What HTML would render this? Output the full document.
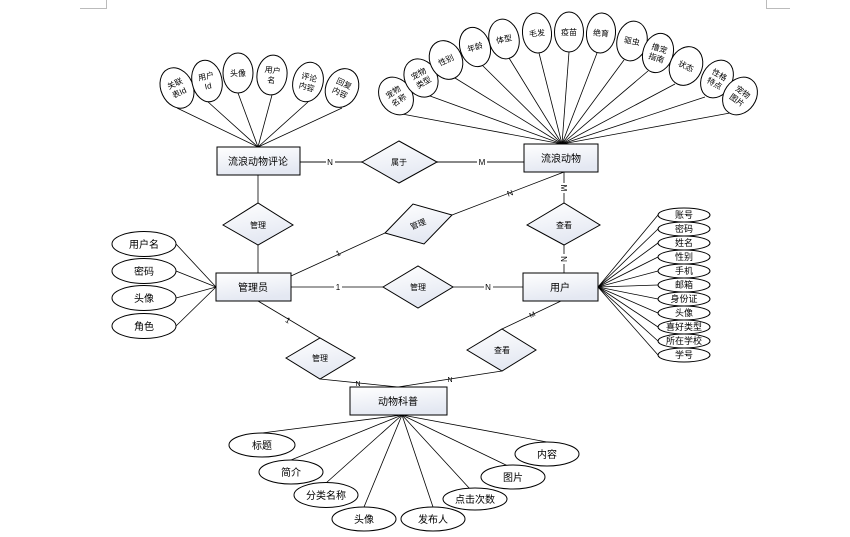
<!DOCTYPE html>
<html><head><meta charset="utf-8"><style>
html,body{margin:0;padding:0;background:#fff;}
svg{display:block;}
text{font-family:"Liberation Sans","Noto Sans CJK SC",sans-serif;fill:#000;}
.s{font-family:"Liberation Serif","Noto Serif CJK SC",serif;font-size:8px;fill:#333;}
</style></head><body>
<svg width="850" height="537" viewBox="0 0 850 537" xmlns="http://www.w3.org/2000/svg">
<defs>
<linearGradient id="g" x1="0" y1="0" x2="0.3" y2="1">
<stop offset="0" stop-color="#ffffff"/><stop offset="1" stop-color="#e4e8f2"/></linearGradient>
</defs>
<g stroke="#bbb" fill="none" stroke-width="1">
<path d="M80 8.5H106.5V0"/><path d="M790 8.5H766.5V0"/>
</g>
<!-- connector lines -->
<g stroke="#000" stroke-width="0.8" fill="none">
<!-- comment attrs -->
<line x1="177" y1="108" x2="258" y2="147"/><line x1="207" y1="101" x2="258" y2="147"/>
<line x1="238" y1="93" x2="258" y2="147"/><line x1="272" y1="95" x2="258" y2="147"/>
<line x1="308" y1="102" x2="258" y2="147"/><line x1="342" y1="108" x2="258" y2="147"/>
<!-- animal attrs -->
<line x1="402" y1="114" x2="562" y2="144"/><line x1="430" y1="96" x2="562" y2="144"/>
<line x1="455" y1="78" x2="562" y2="144"/><line x1="482" y1="65" x2="562" y2="144"/>
<line x1="509" y1="58" x2="562" y2="144"/><line x1="539" y1="53" x2="562" y2="144"/>
<line x1="569" y1="52" x2="562" y2="144"/><line x1="597" y1="53" x2="562" y2="144"/>
<line x1="624" y1="60" x2="562" y2="144"/><line x1="648" y1="71" x2="562" y2="144"/>
<line x1="675" y1="84" x2="562" y2="144"/><line x1="705" y1="97" x2="562" y2="144"/>
<line x1="730" y1="113" x2="562" y2="144"/>
<!-- admin attrs -->
<line x1="176" y1="244" x2="216" y2="287"/><line x1="176" y1="271" x2="216" y2="287"/>
<line x1="176" y1="298" x2="216" y2="287"/><line x1="176" y1="326" x2="216" y2="287"/>
<!-- user attrs -->
<line x1="598" y1="287" x2="658" y2="215"/><line x1="598" y1="287" x2="658" y2="229"/>
<line x1="598" y1="287" x2="658" y2="243"/><line x1="598" y1="287" x2="658" y2="257"/>
<line x1="598" y1="287" x2="658" y2="271"/><line x1="598" y1="287" x2="658" y2="285"/>
<line x1="598" y1="287" x2="658" y2="299"/><line x1="598" y1="287" x2="658" y2="313"/>
<line x1="598" y1="287" x2="658" y2="327"/><line x1="598" y1="287" x2="658" y2="341"/>
<line x1="598" y1="287" x2="658" y2="355"/>
<!-- kepu attrs -->
<line x1="402" y1="415" x2="262" y2="433"/><line x1="402" y1="415" x2="291" y2="460"/>
<line x1="402" y1="415" x2="326" y2="483"/><line x1="402" y1="415" x2="364" y2="507"/>
<line x1="402" y1="415" x2="433" y2="507"/><line x1="402" y1="415" x2="470" y2="489"/>
<line x1="402" y1="415" x2="508" y2="466"/><line x1="402" y1="415" x2="547" y2="442"/>
<!-- relations -->
<line x1="258" y1="175" x2="258" y2="203"/><line x1="258" y1="245" x2="258" y2="273"/>
<line x1="291" y1="276" x2="385" y2="233"/><line x1="452" y1="215" x2="564" y2="172"/>
<line x1="564" y1="172" x2="564" y2="203"/><line x1="564" y1="245" x2="564" y2="273"/>
<line x1="291" y1="287" x2="383" y2="287"/><line x1="453" y1="287" x2="523" y2="287"/>
<line x1="258" y1="301" x2="320" y2="338"/><line x1="320" y1="379" x2="398" y2="387"/>
<line x1="561" y1="301" x2="502" y2="329"/><line x1="502" y1="371" x2="398" y2="387"/>
</g>
<g stroke="#777" stroke-width="1.8">
<line x1="300" y1="162" x2="362" y2="162"/><line x1="437" y1="162" x2="524" y2="162"/>
</g>
<!-- cardinality labels -->
<g font-size="8" text-anchor="middle">
<rect x="326" y="157" width="9" height="10" fill="#fff"/><text x="330" y="165">N</text>
<rect x="477" y="157" width="10" height="10" fill="#fff"/><text x="482" y="165">M</text>
<text x="338" y="256" transform="rotate(-25 338 253)">1</text>
<text x="510" y="196" transform="rotate(-20 510 193)">N</text>
<rect x="559" y="183" width="10" height="10" fill="#fff"/><text x="564" y="191" transform="rotate(90 564 188)">M</text>
<rect x="559" y="254" width="10" height="10" fill="#fff"/><text x="564" y="262" transform="rotate(90 564 259)">N</text>
<rect x="334" y="282" width="8" height="10" fill="#fff"/><text x="338" y="290">1</text>
<rect x="484" y="282" width="9" height="10" fill="#fff"/><text x="488" y="290">N</text>
<text x="288" y="323" transform="rotate(30 288 320)">1</text>
<text x="358" y="386" font-size="7">N</text>
<text x="532" y="317" font-size="7" transform="rotate(-25 532 314)">M</text>
<text x="450" y="382" font-size="7">N</text>
</g>
<!-- entities -->
<g stroke="#000" stroke-width="1" fill="url(#g)">
<rect x="217" y="147" width="83" height="28"/>
<rect x="524" y="144" width="74" height="28"/>
<rect x="216" y="273" width="75" height="28"/>
<rect x="523" y="273" width="75" height="28"/>
<rect x="350" y="387" width="97" height="28"/>
<!-- diamonds -->
<polygon points="362,162 399,141 437,162 399,183"/>
<polygon points="223,225 258,203 293,225 258,245"/>
<polygon points="385,233 413,204 452,215 424,244"/>
<polygon points="527,225 564,203 600,225 564,245"/>
<polygon points="383,287 418,266 453,287 418,308"/>
<polygon points="286,358 320,338 355,358 320,379"/>
<polygon points="467,350 502,329 536,350 502,371"/>
</g>
<g font-size="10" text-anchor="middle">
<text x="258" y="165">流浪动物评论</text>
<text x="561" y="162">流浪动物</text>
<text x="253" y="291">管理员</text>
<text x="560" y="291">用户</text>
<text x="398" y="405">动物科普</text>
</g>
<g font-size="8" text-anchor="middle" fill="#333">
<text x="399" y="165">属于</text>
<text x="258" y="228">管理</text>
<text x="418" y="227" transform="rotate(-22 418 224)">管理</text>
<text x="564" y="228">查看</text>
<text x="418" y="290">管理</text>
<text x="320" y="361">管理</text>
<text x="502" y="353">查看</text>
</g>
<!-- admin attrs -->
<g stroke="#000" stroke-width="1" fill="#fff">
<ellipse cx="144" cy="244" rx="32" ry="12.5"/><ellipse cx="144" cy="271" rx="32" ry="12.5"/>
<ellipse cx="144" cy="298" rx="32" ry="12.5"/><ellipse cx="144" cy="326" rx="32" ry="12.5"/>
</g>
<g font-size="10" text-anchor="middle">
<text x="144" y="248">用户名</text><text x="144" y="275">密码</text>
<text x="144" y="302">头像</text><text x="144" y="330">角色</text>
</g>
<!-- user attrs -->
<g stroke="#000" stroke-width="1" fill="#fff">
<ellipse cx="684" cy="215" rx="26" ry="7"/><ellipse cx="684" cy="229" rx="26" ry="7"/>
<ellipse cx="684" cy="243" rx="26" ry="7"/><ellipse cx="684" cy="257" rx="26" ry="7"/>
<ellipse cx="684" cy="271" rx="26" ry="7"/><ellipse cx="684" cy="285" rx="26" ry="7"/>
<ellipse cx="684" cy="299" rx="26" ry="7"/><ellipse cx="684" cy="313" rx="26" ry="7"/>
<ellipse cx="684" cy="327" rx="26" ry="7"/><ellipse cx="684" cy="341" rx="26" ry="7"/>
<ellipse cx="684" cy="355" rx="26" ry="7"/>
</g>
<g font-size="9" text-anchor="middle">
<text x="684" y="218">账号</text><text x="684" y="232">密码</text><text x="684" y="246">姓名</text>
<text x="684" y="260">性别</text><text x="684" y="274">手机</text><text x="684" y="288">邮箱</text>
<text x="684" y="302">身份证</text><text x="684" y="316">头像</text><text x="684" y="330">喜好类型</text>
<text x="684" y="344">所在学校</text><text x="684" y="358">学号</text>
</g>
<!-- kepu attrs -->
<g stroke="#000" stroke-width="1" fill="#fff">
<ellipse cx="262" cy="445" rx="33" ry="12"/><ellipse cx="291" cy="472" rx="32" ry="12"/>
<ellipse cx="326" cy="495" rx="32" ry="12.5"/><ellipse cx="364" cy="519" rx="32" ry="12"/>
<ellipse cx="433" cy="519" rx="32" ry="12"/><ellipse cx="475" cy="499" rx="32" ry="11"/>
<ellipse cx="513" cy="477" rx="32" ry="12"/><ellipse cx="547" cy="454" rx="32" ry="12"/>
</g>
<g font-size="10" text-anchor="middle">
<text x="262" y="449">标题</text><text x="291" y="476">简介</text><text x="326" y="499">分类名称</text>
<text x="364" y="523">头像</text><text x="433" y="523">发布人</text><text x="475" y="503">点击次数</text>
<text x="513" y="481">图片</text><text x="547" y="458">内容</text>
</g>
<!-- comment attrs -->
<g stroke="#000" stroke-width="1" fill="#fff">
<ellipse cx="177" cy="88" rx="16" ry="21" transform="rotate(-25 177 88)"/>
<ellipse cx="207" cy="81" rx="15" ry="21" transform="rotate(-12 207 81)"/>
<ellipse cx="238" cy="73" rx="15" ry="20"/>
<ellipse cx="272" cy="75" rx="15" ry="20" transform="rotate(8 272 75)"/>
<ellipse cx="308" cy="82" rx="15" ry="20" transform="rotate(15 308 82)"/>
<ellipse cx="342" cy="88" rx="16" ry="20" transform="rotate(25 342 88)"/>
</g>
<g class="s" text-anchor="middle">
<g transform="rotate(-25 177 88)"><text x="177" y="86">关联</text><text x="177" y="96">表Id</text></g>
<g transform="rotate(-12 207 81)"><text x="207" y="79">用户</text><text x="207" y="89">Id</text></g>
<text x="238" y="76">头像</text>
<g transform="rotate(8 272 75)"><text x="272" y="73">用户</text><text x="272" y="83">名</text></g>
<g transform="rotate(15 308 82)"><text x="308" y="80">评论</text><text x="308" y="90">内容</text></g>
<g transform="rotate(25 342 88)"><text x="342" y="86">回复</text><text x="342" y="96">内容</text></g>
</g>
<!-- animal attrs -->
<g stroke="#000" stroke-width="1" fill="#fff">
<ellipse cx="396" cy="96" rx="16" ry="20" transform="rotate(-35 396 96)"/>
<ellipse cx="421" cy="78" rx="16" ry="20" transform="rotate(-30 421 78)"/>
<ellipse cx="446" cy="60" rx="16" ry="20" transform="rotate(-25 446 60)"/>
<ellipse cx="475" cy="47" rx="15" ry="20" transform="rotate(-18 475 47)"/>
<ellipse cx="504" cy="39" rx="15" ry="20" transform="rotate(-12 504 39)"/>
<ellipse cx="537" cy="33" rx="14.5" ry="20" transform="rotate(-5 537 33)"/>
<ellipse cx="569" cy="32" rx="14.5" ry="20"/>
<ellipse cx="601" cy="33" rx="14.5" ry="20" transform="rotate(5 601 33)"/>
<ellipse cx="632" cy="41" rx="15" ry="20" transform="rotate(12 632 41)"/>
<ellipse cx="658" cy="53" rx="15" ry="20" transform="rotate(18 658 53)"/>
<ellipse cx="686" cy="66" rx="16" ry="20" transform="rotate(25 686 66)"/>
<ellipse cx="717" cy="79" rx="15" ry="20" transform="rotate(30 717 79)"/>
<ellipse cx="740" cy="96" rx="16" ry="20" transform="rotate(35 740 96)"/>
</g>
<g class="s" text-anchor="middle">
<g transform="rotate(-35 396 96)"><text x="396" y="94">宠物</text><text x="396" y="104">名称</text></g>
<g transform="rotate(-30 421 78)"><text x="421" y="76">宠物</text><text x="421" y="86">类型</text></g>
<text x="446" y="63" transform="rotate(-25 446 60)">性别</text>
<text x="475" y="50" transform="rotate(-18 475 47)">年龄</text>
<text x="504" y="42" transform="rotate(-12 504 39)">体型</text>
<text x="537" y="36" transform="rotate(-5 537 33)">毛发</text>
<text x="569" y="35">疫苗</text>
<text x="601" y="36" transform="rotate(5 601 33)">绝育</text>
<text x="632" y="44" transform="rotate(12 632 41)">驱虫</text>
<g transform="rotate(18 658 53)"><text x="658" y="51">撸宠</text><text x="658" y="61">指南</text></g>
<text x="686" y="69" transform="rotate(25 686 66)">状态</text>
<g transform="rotate(30 717 79)"><text x="717" y="77">性格</text><text x="717" y="87">特点</text></g>
<g transform="rotate(35 740 96)"><text x="740" y="94">宠物</text><text x="740" y="104">图片</text></g>
</g>
</svg>
</body></html>
